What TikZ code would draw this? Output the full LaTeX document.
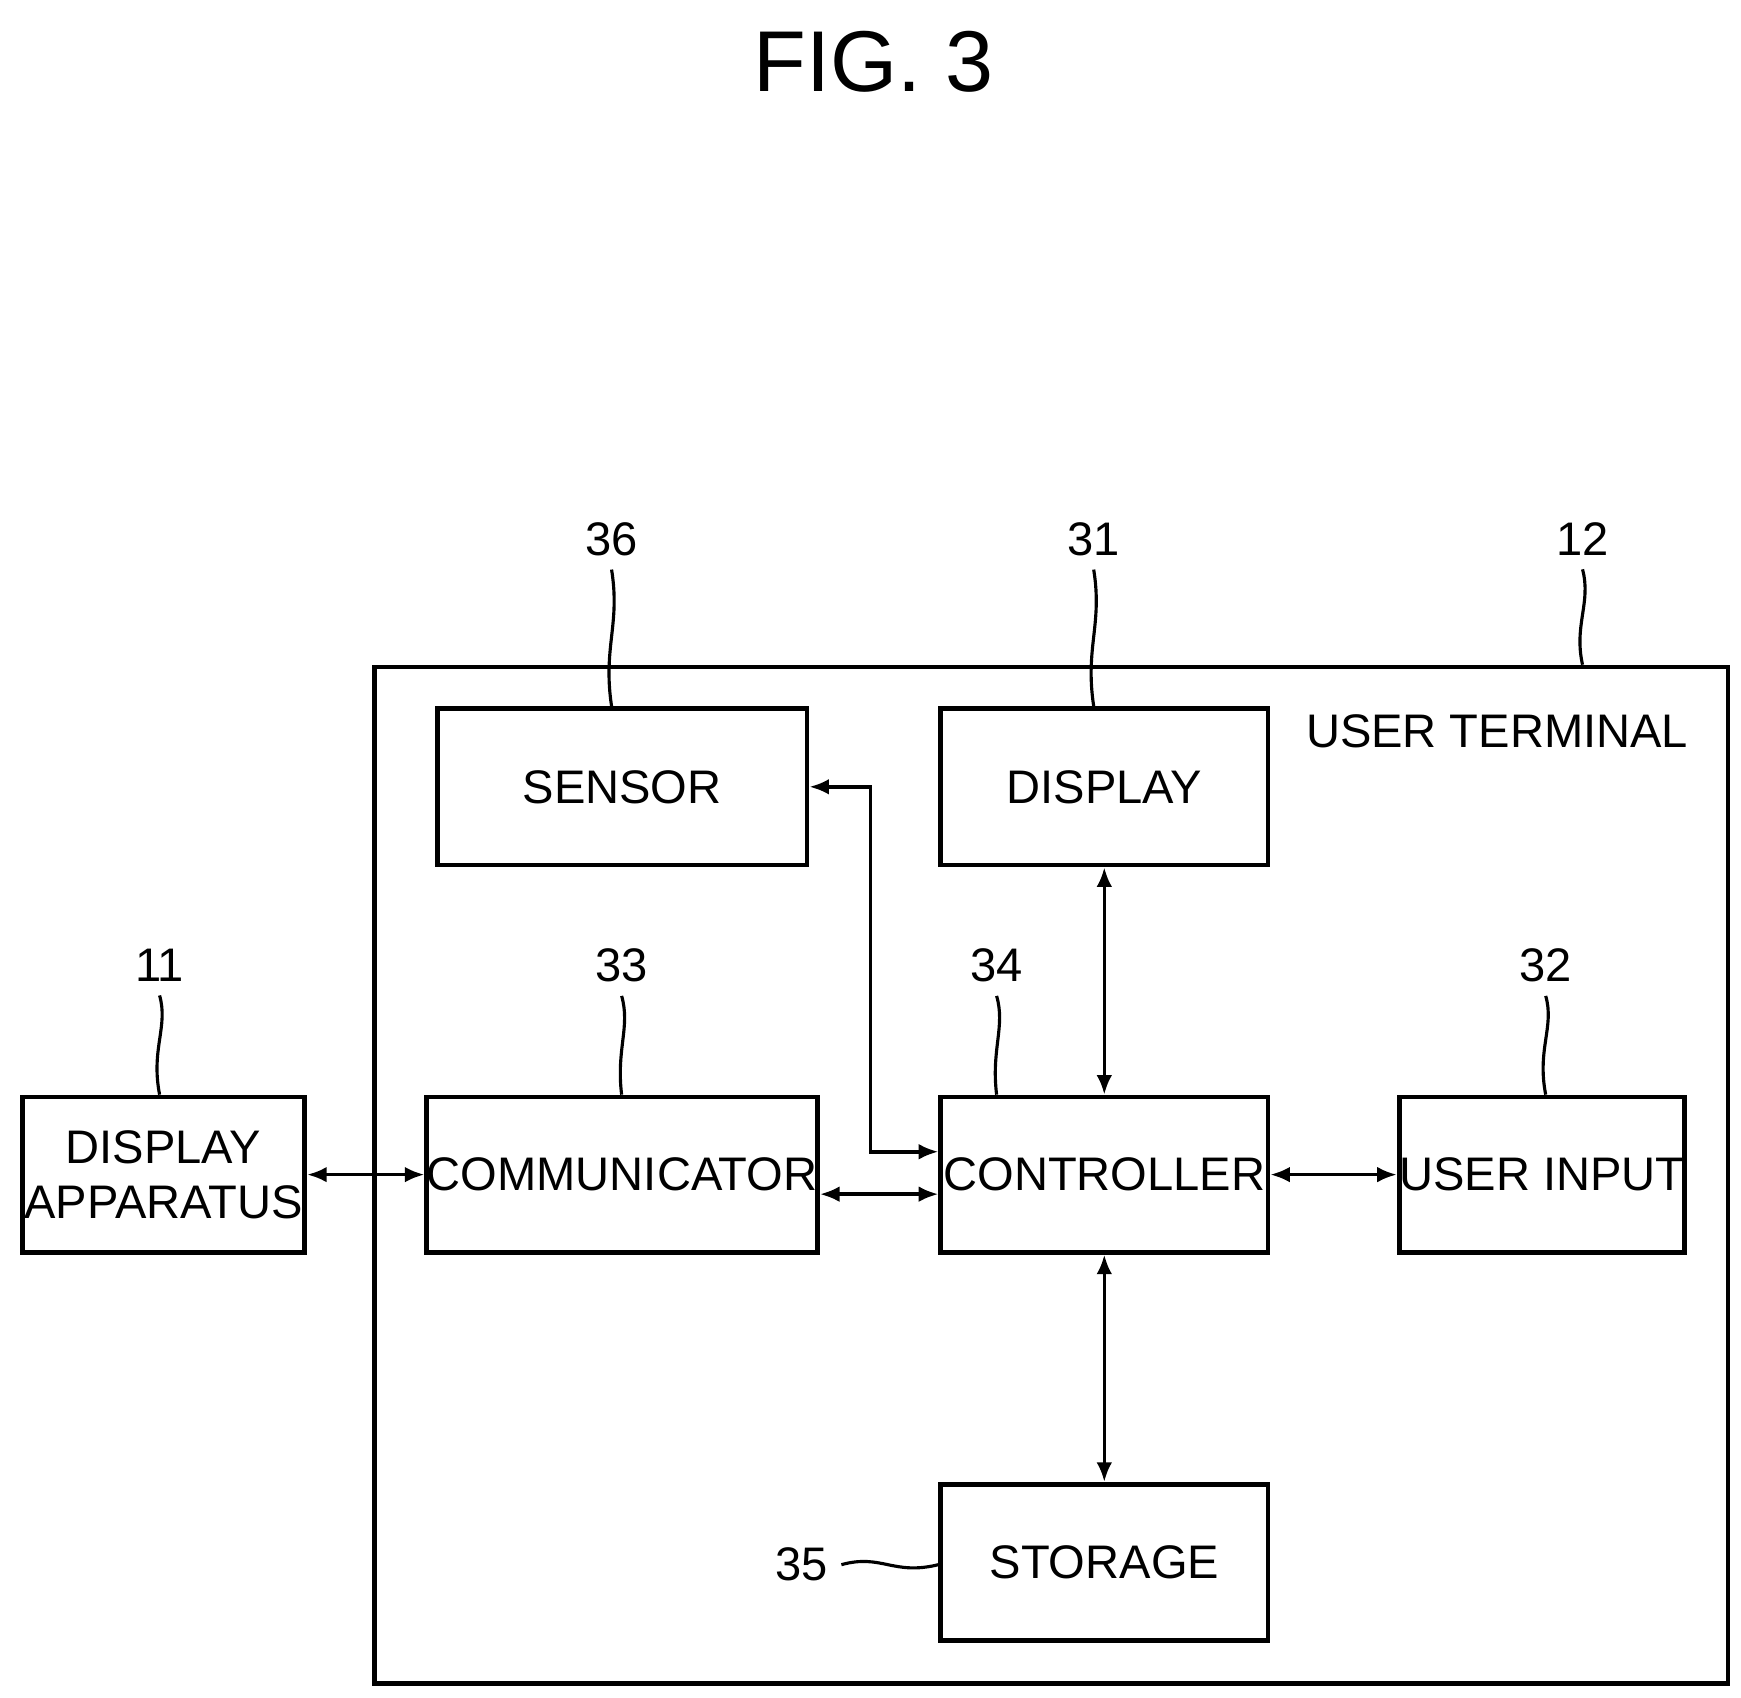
\documentclass[tikz,border=0pt]{standalone}
\usepackage{fontspec}
\setmainfont{Liberation Sans}
\usetikzlibrary{arrows.meta}
\tikzset{
  blk/.style={draw,line width=1.2pt,inner sep=0pt,font=\fontsize{12}{14}\selectfont,align=center},
  conn/.style={line width=0.9pt,{Latex[length=5pt,width=4pt]}-{Latex[length=5pt,width=4pt]}},
  lead/.style={line width=0.8pt},
  num/.style={font=\fontsize{12}{14}\selectfont}
}
\begin{document}
\begin{tikzpicture}[x=0.01cm,y=-0.01cm]
        \useasboundingbox (0,0) rectangle (1560,1521);
        \node[font=\fontsize{22}{26}\selectfont] (fig) at (783,55) {FIG. 3};
        % outer frame
        \node[blk,minimum width=12.12cm,minimum height=9.10cm] (term) at (942,1053) {};
        \node[num,anchor=north east] (termlbl) at (1525,628) {USER TERMINAL};
        % blocks
        \node[blk,minimum width=3.31cm,minimum height=1.40cm] (sensor) at (557.5,705) {SENSOR};
        \node[blk,minimum width=2.93cm,minimum height=1.40cm] (disp) at (989.5,705) {DISPLAY};
        \node[blk,minimum width=2.53cm,minimum height=1.39cm] (app) at (146.5,1052.5) {DISPLAY\\APPARATUS};
        \node[blk,minimum width=3.31cm,minimum height=1.39cm] (comm) at (557.5,1052.5) {COMMUNICATOR};
        \node[blk,minimum width=2.93cm,minimum height=1.39cm] (ctrl) at (989.5,1052.5) {CONTROLLER};
        \node[blk,minimum width=2.53cm,minimum height=1.39cm] (uin) at (1381.5,1052.5) {USER INPUT};
        \node[blk,minimum width=2.93cm,minimum height=1.40cm] (stor) at (989.5,1400) {STORAGE};
        % reference numbers
        \node[num] (n36) at (548,483) {36};
        \node[num] (n31) at (980,483) {31};
        \node[num] (n12) at (1418,483) {12};
        \node[num] (n11) at (143,865) {11};
        \node[num] (n33) at (557,865) {33};
        \node[num] (n34) at (893,865) {34};
        \node[num] (n32) at (1385,865) {32};
        \node[num] (n35) at (718,1402) {35};
        % leaders
        \draw[lead] (n36.south) .. controls (556,560) and (540,580) .. (sensor.north -| n36);
        \draw[lead] (n31.south) .. controls (988,560) and (972,580) .. (disp.north -| n31);
        \draw[lead] (n12.south) .. controls (1426,540) and (1410,560) .. (term.north -| n12);
        \draw[lead] (n11.south) .. controls (151,920) and (135,940) .. (app.north -| n11);
        \draw[lead] (n33.south) .. controls (565,920) and (552,940) .. (comm.north -| n33);
        \draw[lead] (n34.south) .. controls (901,920) and (888,940) .. (ctrl.north -| n34);
        \draw[lead] (n32.south) .. controls (1393,920) and (1377,940) .. (uin.north -| n32);
        \draw[lead] (n35.east) .. controls (790,1392) and (800,1412) .. (stor.west |- n35);
        % connectors
        \draw[conn] (app.east) -- (comm.west);
        \draw[conn] (comm.east |- 0,1070) -- (ctrl.west |- 0,1070);
        \draw[conn] (sensor.east) -- (780,705) -- (780,1032) -- (ctrl.west |- 0,1032);
        \draw[conn] (disp.south) -- (ctrl.north);
        \draw[conn] (ctrl.east) -- (uin.west);
        \draw[conn] (ctrl.south) -- (stor.north);
\end{tikzpicture}
\end{document}
